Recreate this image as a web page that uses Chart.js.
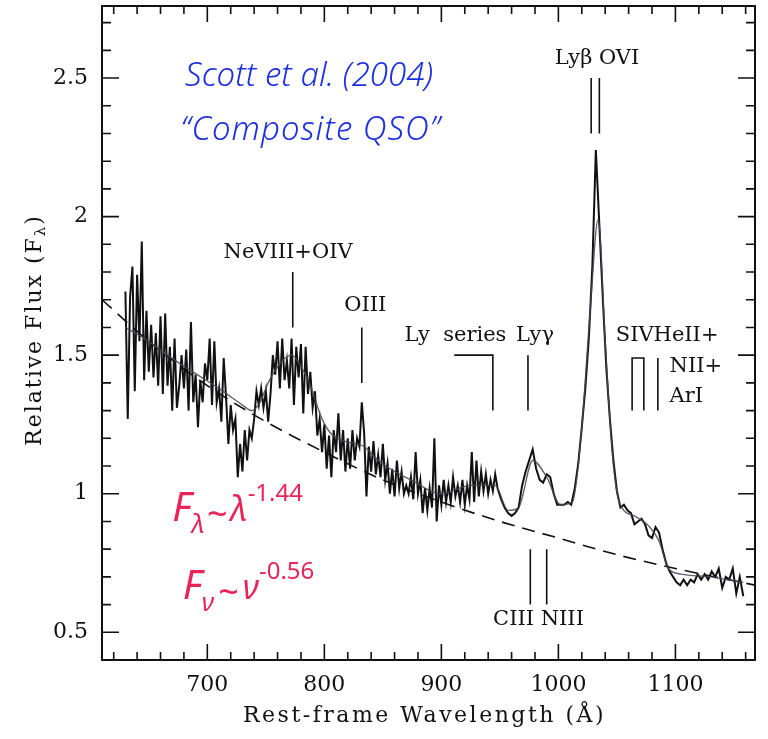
<!DOCTYPE html>
<html>
<head>
<meta charset="utf-8">
<title>Composite QSO</title>
<script src="https://cdn.jsdelivr.net/npm/chart.js@4/dist/chart.umd.min.js"></script>
<style>
  html, body { margin: 0; padding: 0; background: #fff; }
</style>
</head>
<body>
<canvas id="qso" width="768" height="739"></canvas>
<script>
// composite spectrum, blue part: 2 A bins from 630 A
const blueStart = 630;
const blueStep = 2;
const blueFlux = [
  1.73, 1.27, 1.71, 1.82, 1.37, 1.79, 1.55, 1.91, 1.41, 1.66,   // 630-648
  1.44, 1.61, 1.42, 1.58, 1.39, 1.64, 1.36, 1.65, 1.39, 1.53,   // 650-668
  1.30, 1.56, 1.31, 1.39, 1.50, 1.38, 1.52, 1.30, 1.62, 1.33,   // 670-688
  1.43, 1.24, 1.41, 1.33, 1.47, 1.41, 1.56, 1.32, 1.55, 1.33,   // 690-708
  1.38, 1.26, 1.49, 1.35, 1.18, 1.32, 1.23, 1.27, 1.06, 1.18,   // 710-728
  1.08, 1.23, 1.12, 1.23, 1.20, 1.27, 1.37, 1.32, 1.38, 1.31,   // 730-748
  1.37, 1.26, 1.36, 1.50, 1.43, 1.55,                           // 750-760
  1.38, 1.56, 1.41, 1.48, 1.38, 1.56, 1.32, 1.53, 1.42, 1.54,   // 762-780
  1.29, 1.53, 1.36, 1.44, 1.31, 1.37, 1.21, 1.27, 1.15, 1.25,   // 782-800
  1.09, 1.21, 1.06, 1.23, 1.15, 1.29, 1.12, 1.23, 1.08, 1.20,   // 802-820
  1.09, 1.23, 1.12, 1.20, 1.17, 1.33, 1.22, 0.99, 1.17, 1.08,   // 822-840
  1.19, 1.07, 1.14, 1.06, 1.18, 1.05, 1.11, 1.00, 1.09, 0.99,   // 842-860
  1.12, 1.02, 1.08, 1.00, 1.03, 1.00, 1.06, 0.98, 1.15, 1.00,   // 862-880
  1.05, 0.93, 1.02, 0.94, 1.02, 0.95, 1.20, 0.90, 1.03,         // 882-898
  0.96, 1.05, 0.97, 1.03, 0.97, 1.06, 0.99, 1.03, 0.97, 1.05,   // 900-918
  0.96, 1.03, 0.98, 1.15, 0.97, 1.12, 0.99, 1.08, 1.01, 1.07,   // 920-938
  1.00, 1.05, 1.01, 1.07, 1.02                                  // 940-948
];

// red part: 3 A bins from 951 A
const redStart = 951;
const redStep = 3;
const redFlux = [
  0.98, 0.95, 0.93, 0.92, 0.93, 0.95, 1.03, 1.08, 1.12, 1.16,   // 951-978
  1.09, 1.05, 1.04, 1.07, 1.06, 1.00, 0.96, 0.96, 0.96, 0.97,   // 981-1008
  0.96, 1.02, 1.11, 1.24, 1.38, 1.56, 1.82, 2.24, 1.97, 1.70,   // 1011-1038
  1.45, 1.27, 1.12, 1.01, 0.95, 0.96, 0.94, 0.93, 0.89, 0.90,   // 1041-1068
  0.91, 0.89, 0.85, 0.84, 0.88, 0.86, 0.80, 0.75, 0.72, 0.70,   // 1071-1098
  0.68, 0.67, 0.69, 0.67, 0.69, 0.68, 0.71, 0.69, 0.71, 0.69,   // 1101-1128
  0.72, 0.70, 0.73, 0.66, 0.70, 0.69, 0.73, 0.64, 0.70, 0.63    // 1131-1158
];

// smooth model through the spectrum
const fitLambda = [630, 650, 666, 680, 695, 710, 720, 730, 738, 745, 752, 762, 772, 780, 789, 797,
  805, 817, 834, 846, 860, 874, 899, 926, 946, 957, 966, 978, 990, 1002, 1012, 1020, 1027, 1034,
  1040, 1046, 1052, 1065, 1078, 1086, 1094, 1105, 1130, 1158];
const fitFlux = [1.60, 1.55, 1.50, 1.46, 1.42, 1.38, 1.35, 1.32, 1.30, 1.33, 1.40, 1.47, 1.50, 1.46, 1.38, 1.28,
  1.22, 1.19, 1.17, 1.12, 1.08, 1.05, 1.00, 1.03, 1.03, 0.94, 0.95, 1.12, 1.06, 0.96, 0.97, 1.24, 1.65, 1.99,
  1.55, 1.15, 0.97, 0.92, 0.88, 0.83, 0.73, 0.71, 0.70, 0.68];

// power-law continuum
const contLambda = [610, 650, 700, 750, 800, 850, 900, 950, 1000, 1050, 1100, 1168];
const contFlux = [1.70, 1.55, 1.39, 1.26, 1.15, 1.05, 0.97, 0.90, 0.84, 0.78, 0.73, 0.67];

// axes
const xMajor = [700, 800, 900, 1000, 1100];
const yMajor = [0.5, 1, 1.5, 2, 2.5];
const yLabels = ['0.5', '1', '1.5', '2', '2.5'];

// line identifications: wavelength of each marker and its flux span
const markLambda = [773, 832, 974, 1028, 1035, 1085, 976, 990];
const markTop = [1.80, 1.60, 1.50, 2.50, 2.50, 1.49, 0.80, 0.80];
const markBottom = [1.60, 1.40, 1.30, 2.30, 2.30, 1.30, 0.60, 0.60];
// bracketed groups: [left, right] wavelengths
const bracketLy = [911, 944];
const bracketSIV = [1063, 1073];

const labelText = ['NeVIII+OIV', 'OIII', 'Ly  series', 'Ly\u03b3', 'Ly\u03b2 OVI', 'SIVHeII+', 'NII+', 'ArI', 'CIII NIII'];
const labelLambda = [769, 835, 912, 980, 1033, 1049, 1095, 1095, 983];
const labelFlux = [1.87, 1.68, 1.57, 1.57, 2.57, 1.57, 1.46, 1.35, 0.545];
const labelAlign = ['center', 'center', 'center', 'center', 'center', 'left', 'left', 'left', 'center'];

const SERIF = '"DejaVu Serif", serif';
const HAND = '"Noto Sans", sans-serif';
const BLUE = 'rgb(28, 48, 225)';
const PINK = 'rgb(232, 36, 88)';

function rich(ctx, parts, x, y, color) {
  ctx.fillStyle = color;
  ctx.textAlign = 'left';
  ctx.textBaseline = 'alphabetic';
  let cx = x;
  parts.forEach(p => {
    ctx.font = p.font;
    ctx.fillText(p.t, cx, y + (p.dy || 0));
    cx += ctx.measureText(p.t).width + (p.gap || 0);
  });
}

const framePlugin = {
  id: 'frame',
  afterDraw(chart) {
    const { ctx, chartArea: a, scales: { x, y } } = chart;
    ctx.save();
    ctx.strokeStyle = '#111';
    ctx.lineWidth = 2;
    ctx.strokeRect(a.left, a.top, a.right - a.left, a.bottom - a.top);

    // inward ticks on all four sides
    ctx.lineWidth = 1.6;
    ctx.beginPath();
    for (let v = 620; v <= 1160; v += 20) {
      const px = x.getPixelForValue(v);
      const len = v % 100 === 0 ? 16 : 8;
      ctx.moveTo(px, a.bottom); ctx.lineTo(px, a.bottom - len);
      ctx.moveTo(px, a.top); ctx.lineTo(px, a.top + len);
    }
    for (let k = 5; k <= 27; k++) {
      const py = y.getPixelForValue(k / 10);
      const len = k % 5 === 0 ? 17 : 9;
      ctx.moveTo(a.left, py); ctx.lineTo(a.left + len, py);
      ctx.moveTo(a.right, py); ctx.lineTo(a.right - len, py);
    }
    ctx.stroke();

    // tick labels
    ctx.fillStyle = '#111';
    ctx.font = '22px ' + SERIF;
    ctx.textAlign = 'center';
    ctx.textBaseline = 'middle';
    xMajor.forEach(v => ctx.fillText(String(v), x.getPixelForValue(v), a.bottom + 25));
    ctx.textAlign = 'right';
    yMajor.forEach((v, i) => ctx.fillText(yLabels[i], a.left - 14, y.getPixelForValue(v)));

    // line markers
    ctx.lineWidth = 1.6;
    ctx.beginPath();
    markLambda.forEach((lam, i) => {
      const px = x.getPixelForValue(lam);
      ctx.moveTo(px, y.getPixelForValue(markTop[i]));
      ctx.lineTo(px, y.getPixelForValue(markBottom[i]));
    });
    // Ly series bracket
    ctx.moveTo(x.getPixelForValue(bracketLy[0]), y.getPixelForValue(1.50));
    ctx.lineTo(x.getPixelForValue(bracketLy[1]), y.getPixelForValue(1.50));
    ctx.lineTo(x.getPixelForValue(bracketLy[1]), y.getPixelForValue(1.30));
    // SIV doublet
    ctx.moveTo(x.getPixelForValue(bracketSIV[0]), y.getPixelForValue(1.30));
    ctx.lineTo(x.getPixelForValue(bracketSIV[0]), y.getPixelForValue(1.49));
    ctx.lineTo(x.getPixelForValue(bracketSIV[1]), y.getPixelForValue(1.49));
    ctx.lineTo(x.getPixelForValue(bracketSIV[1]), y.getPixelForValue(1.30));
    ctx.stroke();

    ctx.font = '21px ' + SERIF;
    ctx.textBaseline = 'middle';
    labelText.forEach((t, i) => {
      ctx.textAlign = labelAlign[i];
      ctx.fillText(t, x.getPixelForValue(labelLambda[i]), y.getPixelForValue(labelFlux[i]));
    });

    // axis titles
    ctx.textAlign = 'center';
    ctx.textBaseline = 'middle';
    ctx.font = '22px ' + SERIF;
    ctx.letterSpacing = '2.5px';
    ctx.fillText('Rest-frame Wavelength (\u00c5)', (a.left + a.right) / 2 - 4, 716);

    ctx.save();
    ctx.translate(33, 330);
    ctx.rotate(-Math.PI / 2);
    ctx.letterSpacing = '2px';
    ctx.font = '22px ' + SERIF;
    const main = 'Relative Flux (F';
    const wMain = ctx.measureText(main).width;
    ctx.font = '15px ' + SERIF;
    const wSub = ctx.measureText('\u03bb').width;
    ctx.font = '22px ' + SERIF;
    const wEnd = ctx.measureText(')').width;
    let sx = -(wMain + wSub + wEnd) / 2;
    ctx.textAlign = 'left';
    ctx.textBaseline = 'alphabetic';
    ctx.fillText(main, sx, 8);
    ctx.font = '15px ' + SERIF;
    ctx.fillText('\u03bb', sx + wMain, 12);
    ctx.font = '22px ' + SERIF;
    ctx.fillText(')', sx + wMain + wSub, 8);
    ctx.restore();
    ctx.letterSpacing = '0px';

    // handwritten notes
    ctx.textAlign = 'left';
    ctx.textBaseline = 'alphabetic';
    ctx.fillStyle = BLUE;
    ctx.font = 'italic 300 33px ' + HAND;
    ctx.fillText('Scott et al. (2004)', x.getPixelForValue(681), y.getPixelForValue(2.47));
    ctx.letterSpacing = '1px';
    ctx.fillText('\u201cComposite QSO\u201d', x.getPixelForValue(677), y.getPixelForValue(2.275));
    ctx.letterSpacing = '0px';

    rich(ctx, [
      { t: 'F', font: 'italic 40px ' + HAND },
      { t: '\u03bb', font: 'italic 26px ' + HAND, dy: 12, gap: 2 },
      { t: '~', font: '36px ' + HAND, dy: 6, gap: 2 },
      { t: '\u03bb', font: 'italic 34px ' + HAND },
      { t: '-1.44', font: '24px ' + HAND, dy: -20 }
    ], x.getPixelForValue(670), y.getPixelForValue(0.90), PINK);

    rich(ctx, [
      { t: 'F', font: 'italic 40px ' + HAND },
      { t: '\u03bd', font: 'italic 26px ' + HAND, dy: 12, gap: 4 },
      { t: '~', font: '36px ' + HAND, dy: 6, gap: 4 },
      { t: '\u03bd', font: 'italic 34px ' + HAND },
      { t: '-0.56', font: '24px ' + HAND, dy: -20 }
    ], x.getPixelForValue(679), y.getPixelForValue(0.62), PINK);
    ctx.restore();
  }
};

const spectrum = blueFlux.map((f, i) => ({ x: blueStart + i * blueStep, y: f }))
  .concat(redFlux.map((f, i) => ({ x: redStart + i * redStep, y: f })));
const fit = fitLambda.map((l, i) => ({ x: l, y: fitFlux[i] }));
const continuum = contLambda.map((l, i) => ({ x: l, y: contFlux[i] }));

new Chart(document.getElementById('qso'), {
  type: 'line',
  data: {
    datasets: [
      {
        label: 'Model',
        data: fit,
        borderColor: 'rgba(70, 70, 90, 0.85)',
        borderWidth: 1.4,
        pointRadius: 0,
        cubicInterpolationMode: 'monotone'
      },
      {
        label: 'Composite',
        data: spectrum,
        borderColor: '#111',
        borderWidth: 2,
        pointRadius: 0,
        tension: 0
      },
      {
        label: 'Continuum',
        data: continuum,
        borderColor: '#111',
        borderWidth: 1.6,
        borderDash: [13, 8],
        pointRadius: 0,
        cubicInterpolationMode: 'monotone'
      }
    ]
  },
  options: {
    responsive: false,
    animation: false,
    layout: { padding: { top: 6, right: 13, left: 0, bottom: 0 } },
    plugins: { legend: { display: false }, tooltip: { enabled: false } },
    scales: {
      x: {
        type: 'linear',
        min: 610,
        max: 1168,
        grid: { display: false, drawTicks: false },
        border: { display: false },
        ticks: { display: false },
        afterFit: scale => { scale.height = 79; }
      },
      y: {
        min: 0.4,
        max: 2.76,
        grid: { display: false, drawTicks: false },
        border: { display: false },
        ticks: { display: false },
        afterFit: scale => { scale.width = 102; }
      }
    }
  },
  plugins: [framePlugin]
});
</script>
</body>
</html>
